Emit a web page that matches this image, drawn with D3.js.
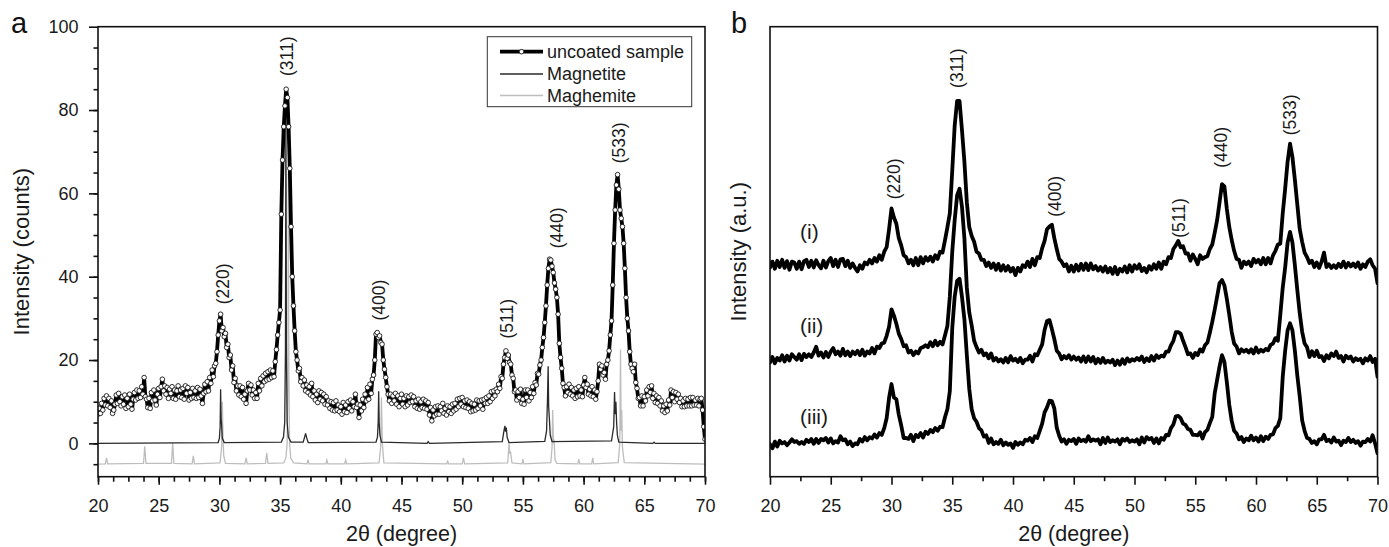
<!DOCTYPE html>
<html><head><meta charset="utf-8">
<script src="https://cdn.jsdelivr.net/npm/d3@7"></script>
<style>
html,body{margin:0;padding:0;background:#fff;}
svg{display:block;font-family:"Liberation Sans",Arial,Helvetica,sans-serif;}
</style></head><body>
<svg id="chart" width="1389" height="547"></svg>
<script>
// ---------------- DATA ----------------
// Panel a: uncoated sample, 2θ = 20.0 ... 70.0 in steps of 0.1°
const sampleStart = 20, sampleStep = 0.1;
const sampleIntensity = [
7.0,8.4,7.2,9.6,8.0,10.8,9.2,11.4,9.0,10.8,
8.6,10.2,7.2,8.0,9.4,11.6,9.6,12.0,10.0,9.0,
11.2,9.4,11.6,8.4,10.8,8.8,11.8,9.4,8.2,10.6,
12.2,10.4,12.8,10.8,12.6,11.0,13.6,11.8,15.8,11.2,
10.6,8.6,10.8,8.4,12.2,10.2,12.8,10.4,9.2,11.8,
13.2,11.0,13.6,15.4,12.6,13.8,11.8,13.4,10.8,13.0,
12.0,13.6,10.8,12.8,10.6,12.6,13.8,11.2,12.8,11.0,
13.2,10.6,13.8,12.0,13.4,10.4,12.2,10.8,13.2,11.0,
12.6,10.8,13.4,11.0,13.0,11.4,9.6,12.0,14.2,12.4,
14.8,12.6,15.8,14.4,17.6,16.0,18.6,19.2,22.0,26.0,
29.4,31.0,27.0,27.8,25.6,26.4,23.0,23.8,20.6,21.2,
17.6,18.6,14.6,15.6,12.6,13.8,11.6,13.8,11.2,13.4,
10.6,11.8,9.6,12.6,14.4,12.8,14.0,11.6,12.8,10.8,
12.2,10.8,14.4,12.6,15.6,13.8,16.2,14.8,16.8,15.2,
17.2,15.4,17.6,15.8,17.4,16.0,19.6,22.5,26.0,29.0,
32.0,55.0,68.0,76.0,81.0,85.0,83.0,76.0,66.0,52.0,
40.0,33.0,27.0,22.0,20.0,17.4,18.0,14.8,15.8,13.8,
15.2,12.6,14.0,12.2,13.6,11.6,14.4,11.2,12.6,10.4,
11.8,9.8,12.6,10.6,12.2,10.2,11.8,9.4,11.2,9.2,
10.2,8.4,10.0,8.0,9.8,7.8,10.2,8.0,9.2,7.6,
8.8,7.0,9.8,7.6,9.2,7.4,10.0,8.4,10.4,7.8,
10.0,8.8,11.8,8.6,9.4,6.2,9.2,7.8,10.6,8.6,
11.8,10.2,13.4,10.6,14.2,12.0,15.4,16.4,20.0,26.2,
26.6,25.4,25.8,24.2,23.8,20.0,17.8,15.8,13.6,11.8,
10.2,11.8,9.6,11.4,10.2,12.0,9.4,11.4,8.8,10.8,
11.8,9.4,10.8,8.8,11.4,9.2,11.2,9.8,11.6,10.0,
11.2,8.8,10.2,8.4,10.6,8.2,10.0,8.6,10.6,8.4,
10.2,8.2,9.8,6.8,8.6,5.4,8.0,6.6,8.8,7.0,
9.0,7.0,8.8,7.8,9.6,7.2,8.4,6.8,9.0,7.6,
8.8,7.2,9.4,7.8,9.6,8.2,10.6,8.8,10.8,9.4,
11.0,8.8,10.2,8.6,10.4,8.4,10.0,7.6,9.6,7.8,
9.4,8.0,10.4,8.4,10.2,9.0,10.4,8.2,10.6,9.6,
11.0,9.6,11.4,10.0,12.4,10.8,12.6,11.4,13.0,12.4,
14.2,13.2,16.0,15.6,19.0,20.6,22.2,20.4,21.2,19.4,
19.0,16.4,15.6,12.4,12.8,10.4,12.4,11.0,13.0,9.6,
10.6,9.4,12.8,11.0,12.8,10.2,12.2,11.0,13.6,12.0,
14.6,14.0,16.8,16.6,18.8,20.0,23.0,25.4,29.0,33.0,
38.0,42.0,44.2,44.0,42.5,41.0,38.5,37.0,35.0,31.0,
24.0,20.6,18.0,14.4,13.4,11.4,13.6,12.2,14.2,11.8,
13.4,11.4,12.8,10.8,13.2,11.2,13.6,11.4,12.8,11.2,
14.0,15.8,13.4,14.2,11.8,13.0,11.4,13.6,11.2,12.8,
10.6,12.4,15.0,19.0,17.8,18.6,16.4,17.0,15.4,19.0,
20.0,22.2,26.0,29.4,38.0,48.0,56.0,62.0,64.5,61.0,
56.0,54.0,52.0,48.0,42.0,35.0,30.0,27.0,22.0,19.0,
18.0,17.2,19.0,14.6,13.2,10.8,11.0,9.0,11.4,9.0,
11.2,10.2,12.8,11.4,13.6,12.2,13.8,10.8,12.0,9.8,
11.4,9.6,11.0,9.0,10.2,7.8,9.0,7.4,9.4,7.8,
10.4,9.2,12.8,11.0,12.4,10.0,12.2,10.6,11.8,9.8,
10.8,8.8,10.2,8.8,10.8,9.0,10.6,9.0,11.0,9.0,
11.0,9.2,10.4,9.2,10.8,9.0,10.6,10.8,8.0,4.0,
1.0
];

// Panel a: reference patterns [2θ, intensity]
const magnetiteProfile = [
[20,0],[29.9,0.2],[30.0,1.2],[30.06,4],[30.1,13],[30.14,6],[30.18,4.5],[30.24,1.2],[30.4,0.2],
[35.1,0.3],[35.28,1.5],[35.38,5],[35.44,22],[35.48,80],[35.52,22],[35.58,5],[35.68,1.5],[35.9,0.3],
[36.9,0.3],[37.02,1.5],[37.1,2.4],[37.2,1.2],[37.32,0.2],
[42.9,0.3],[43.02,1.5],[43.08,5],[43.12,12.5],[43.16,5],[43.22,2],[43.35,0.3],
[47.1,0],[47.2,0.4],[47.3,0],
[53.3,0.4],[53.45,3.2],[53.52,4.2],[53.57,2.8],[53.63,3.8],[53.7,1.5],[53.85,0.2],
[56.8,0.5],[56.95,3],[57.02,10],[57.08,18.5],[57.12,9],[57.18,6],[57.25,2],[57.4,0.4],
[62.3,0.6],[62.48,4],[62.55,12.3],[62.6,7],[62.66,10],[62.72,5],[62.78,2],[62.9,0.3],
[65.7,0],[65.8,0.3],[65.9,0],[70,0]
];
const maghemiteOffset = -5;
const maghemiteProfile = [
[20,0],[20.6,0.1],[20.7,1.5],[20.8,0.1],[23.75,0.2],[23.85,4.3],[23.95,0.2],
[26.05,0.2],[26.15,5.1],[26.25,0.2],[27.75,0.1],[27.85,2],[27.95,0.1],
[30.05,0.3],[30.18,4],[30.24,15],[30.3,6],[30.36,2],[30.5,0.2],
[32.1,0.1],[32.2,1.5],[32.3,0.1],[33.8,0.2],[33.9,2.7],[34.0,0.2],
[35.3,0.3],[35.48,1.5],[35.58,5],[35.64,22],[35.68,70],[35.72,22],[35.78,5],[35.88,1.5],[36.1,0.3],
[37.22,0.1],[37.3,1.1],[37.38,0.1],[38.77,0.1],[38.85,1.0],[38.93,0.1],[40.32,0.1],[40.4,1.0],[40.48,0.1],
[43.15,0.3],[43.28,4],[43.35,16],[43.42,5],[43.55,0.3],
[48.72,0.1],[48.8,0.7],[48.88,0.1],[50.0,0.1],[50.1,1.5],[50.2,0.1],
[53.75,0.3],[53.86,5],[53.92,2.5],[53.98,3],[54.1,0.3],[54.92,0.1],[55.0,1.2],[55.08,0.1],
[57.3,0.4],[57.4,4],[57.45,13],[57.52,5],[57.56,6],[57.65,1],[57.8,0.2],
[59.52,0.1],[59.6,1.2],[59.68,0.1],[60.67,0.1],[60.75,1.5],[60.83,0.1],
[62.85,0.4],[62.98,5],[63.04,27.5],[63.09,8],[63.14,13],[63.2,4],[63.35,0.4],[70,0]
];

const legendLabels = ["uncoated sample", "Magnetite", "Maghemite"];
const peakLabelsA = ["(220)", "(311)", "(400)", "(511)", "(440)", "(533)"];
const peakLabelAngleA = [30.81, 36.08, 43.6, 54.17, 58.29, 63.37];
const peakLabelIntA = [38.3, 92.9, 34.4, 29.9, 51.7, 72.1];

// Panel b: three traces (a.u., stacked), 2θ = 20.0 ... 70.0 in steps of 0.2°
const traceStart = 20, traceStep = 0.2;
const traceI = [
46.5,47.8,46.2,48.0,46.6, 48.2,46.4,47.9,46.0,47.8, 47.6,46.2,47.8,46.1,47.9, 48.2,46.6,48.0,46.5,48.1,
47.0,46.3,48.0,46.5,47.9, 48.6,46.8,48.2,46.6,48.3, 48.4,46.8,48.0,46.4,47.4, 46.4,45.6,47.0,46.2,47.6,
47.2,48.2,47.4,48.6,47.8, 49.2,48.2,50.0,51.0,55.0, 59.6,57.6,56.2,53.0,51.4, 49.2,48.8,47.4,48.2,47.0,
48.6,47.0,48.8,47.4,48.8, 48.0,48.9,47.8,49.2,48.4, 50.0,49.8,52.5,55.4,58.5, 68.0,78.0,83.5,83.5,77.0,
70.0,61.0,55.5,53.5,52.2, 50.0,49.6,48.2,48.2,46.8, 47.6,46.4,47.4,46.0,47.3, 45.8,47.0,45.8,46.8,45.6,
46.4,44.8,46.4,45.6,47.0, 46.6,47.8,46.6,48.4,47.0, 48.8,48.6,50.8,52.4,55.0, 55.6,56.0,53.0,50.6,48.4,
47.8,46.8,47.2,45.6,46.9, 45.6,47.1,45.8,47.3,46.0, 47.4,45.9,47.4,46.1,46.8, 45.8,46.6,45.6,46.7,45.4,
46.4,45.1,46.6,45.0,46.2, 45.6,46.7,45.4,47.0,45.6, 47.0,46.2,47.2,45.7,46.4, 45.4,46.8,46.0,47.2,46.2,
47.6,46.2,47.8,47.2,48.8, 48.6,50.6,51.4,52.4,51.0, 51.2,49.6,49.6,48.0,49.4, 48.4,47.2,49.2,48.4,48.8,
49.0,50.6,51.6,54.2,57.0, 61.0,65.0,64.5,59.5,55.5, 52.6,50.2,48.4,48.2,46.4, 47.8,47.2,47.8,46.8,48.4,
47.6,48.2,47.2,48.6,47.2, 48.6,47.4,49.2,50.2,51.6, 51.8,58.5,64.0,70.0,74.0, 71.0,66.0,60.5,55.0,52.2,
49.8,48.8,47.5,48.0,46.6, 47.6,46.4,47.8,49.8,46.6, 47.2,46.4,47.0,46.4,47.3, 46.6,47.8,46.5,47.5,46.7,
47.4,46.6,47.6,46.2,47.2, 46.6,47.8,48.3,47.0,46.2,
43.0
];
const traceII = [
25.4,26.6,25.2,26.4,25.8, 27.0,25.6,26.9,25.8,27.2, 26.6,26.0,27.2,25.9,27.3, 26.6,27.2,26.6,27.6,28.9,
26.9,27.6,26.5,27.7,26.6, 27.8,28.6,27.2,27.8,26.9, 28.4,27.0,27.8,26.8,27.8, 27.2,28.0,27.0,28.2,26.9,
27.8,27.4,28.6,27.4,28.9, 28.6,29.6,29.8,31.3,33.3, 37.2,35.8,34.0,31.8,30.6, 29.0,29.2,27.6,28.0,27.0,
27.8,27.4,28.6,28.8,29.2, 28.8,29.9,29.0,30.2,29.2, 30.0,29.4,31.4,33.5,40.0, 50.0,57.0,62.5,64.0,60.0,
53.0,42.0,36.5,33.6,30.2, 28.8,27.6,28.2,27.0,27.4, 26.3,27.4,25.8,26.4,25.6, 26.1,25.4,26.4,25.4,26.8,
25.8,26.2,25.5,26.4,25.2, 26.0,26.0,26.9,25.6,27.2, 27.0,28.2,29.4,32.6,34.6, 34.8,32.8,30.6,28.0,27.4,
26.1,26.8,26.3,27.0,26.0, 26.7,26.0,26.5,25.6,26.7, 25.5,26.7,25.6,26.6,25.2, 26.2,25.3,26.4,25.3,25.8,
25.4,26.0,24.8,25.8,24.9, 26.1,25.1,26.3,25.6,26.1, 25.8,26.4,25.9,26.7,25.5, 26.3,25.7,26.8,25.8,27.0,
26.4,26.9,26.7,27.8,27.8, 29.2,30.2,32.1,32.1,31.8, 30.2,28.8,27.2,27.4,26.4, 27.5,27.0,28.3,27.8,29.2,
29.8,32.0,34.4,37.1,40.0, 43.0,43.7,42.5,39.5,36.0, 32.2,29.6,28.9,27.4,28.3, 27.8,28.2,27.6,28.3,27.4,
28.7,27.6,28.2,27.8,28.4, 28.1,29.3,29.6,30.8,30.2, 36.0,42.0,46.5,52.0,54.4, 52.0,47.0,41.5,36.3,32.2,
29.6,28.8,26.6,27.9,26.8, 28.0,26.6,26.8,25.7,27.0, 26.3,27.4,26.8,27.8,26.4, 26.8,25.6,26.9,26.3,26.7,
25.6,26.3,25.9,26.2,25.2, 26.3,25.8,26.8,25.5,26.2,
22.2
];
const traceIII = [
7.2,6.3,7.8,6.7,8.0, 7.4,7.7,7.0,7.6,8.3, 7.7,7.9,7.3,7.7,7.3, 8.2,7.7,8.4,7.3,8.4,
7.5,8.4,8.1,8.6,7.6, 8.5,7.4,7.9,7.6,9.0, 8.1,8.3,7.2,7.8,6.8, 7.4,7.2,8.4,7.8,8.8,
8.1,8.8,8.5,9.4,8.7, 9.7,9.3,10.8,13.0,17.5, 20.6,17.6,17.2,13.8,11.4, 8.6,8.6,8.4,9.3,7.9,
9.3,8.8,9.7,8.7,10.0, 9.5,10.4,9.9,10.8,10.2, 11.1,11.0,13.2,15.0,19.0, 33.0,40.0,43.5,44.0,40.0,
35.0,27.0,19.5,15.0,13.0, 12.2,10.8,10.3,8.9,9.2, 7.5,8.5,7.2,7.7,7.3, 8.2,7.0,7.6,7.1,7.4,
6.4,7.7,7.1,7.6,7.2, 8.2,8.0,8.6,7.7,9.0, 8.6,10.2,11.8,14.3,15.4, 16.9,16.8,15.2,10.9,9.1,
7.8,8.3,7.3,8.2,7.9, 8.4,7.3,8.5,7.9,8.2, 7.8,9.0,7.9,8.3,8.0, 8.3,7.2,8.6,7.5,8.7,
7.7,8.1,7.8,8.3,7.2, 8.4,8.0,8.5,7.7,8.1, 7.8,8.3,7.2,8.7,7.6, 8.8,8.3,8.6,7.5,8.5,
7.4,8.6,8.2,9.3,9.2, 10.8,11.6,13.4,13.5,13.0, 11.8,11.5,10.6,10.4,9.3, 9.3,9.2,9.9,8.5,9.9,
10.4,11.9,13.3,18.5,21.5, 24.5,27.0,25.5,21.0,16.0, 12.4,10.2,9.6,8.3,8.8, 7.7,8.5,8.1,9.1,8.1,
8.7,7.8,9.0,7.9,8.9, 8.4,9.3,9.4,10.8,11.3, 13.0,22.2,28.0,32.5,34.1, 32.5,28.0,22.5,17.8,12.5,
10.2,8.6,8.4,7.5,7.9, 7.2,8.3,8.3,9.3,7.9, 8.2,7.6,8.7,7.8,8.0, 7.0,8.0,7.7,8.6,7.7,
8.2,7.5,7.9,6.9,7.8, 7.7,8.4,7.8,9.2,7.4,
5.2
];
const traceNames = ["(i)", "(ii)", "(iii)"];
const traceLabelAngle = 22.47;
const traceLabelInt = [52.9, 32.0, 11.8];
const peakLabelsB = ["(220)", "(311)", "(400)", "(511)", "(440)", "(533)"];
const peakLabelAngleB = [30.66, 35.87, 43.99, 54.12, 57.65, 63.31];
const peakLabelIntB = [66.2, 90.8, 62.3, 57.5, 73.2, 80.4];

const xTicksMajor = [20,25,30,35,40,45,50,55,60,65,70];
const yTicksA = [0,20,40,60,80,100];

// ---------------- DRAW ----------------
const svg = d3.select("#chart");
const INK = "#111";
const FONT_TICK = 18, FONT_TITLE = 21.5, FONT_PEAK = 17.5;

function frame(g, x0, y0, x1, y1) {
  g.append("rect").attr("x", x0).attr("y", y0).attr("width", x1 - x0).attr("height", y1 - y0)
    .attr("fill", "none").attr("stroke", INK).attr("stroke-width", 1.6);
}
function styleAxis(sel) {
  sel.select(".domain").remove();
  sel.selectAll("line").attr("stroke", INK).attr("stroke-width", 1.6);
  sel.selectAll("text").attr("fill", "#1a1a1a").style("font-size", FONT_TICK + "px")
     .style("font-family", '"Liberation Sans",Arial,sans-serif');
}

// ---- Panel a ----
const A = {l: 98, r: 705, t: 26.7, b: 476.7};
const xA = d3.scaleLinear().domain([20, 70]).range([A.l, A.r]);
const yA = d3.scaleLinear().domain([-8, 100]).range([A.b, A.t]);
const gA = svg.append("g");

gA.append("g").attr("transform", `translate(0,${A.b})`)
  .call(d3.axisBottom(xA).tickValues(d3.range(20, 70.01, 1.25)).tickSize(5).tickFormat(""))
  .call(styleAxis);
gA.append("g").attr("transform", `translate(${A.l},0)`)
  .call(d3.axisLeft(yA).tickValues(d3.range(-5, 100, 5)).tickSize(4.5).tickFormat(""))
  .call(styleAxis);
gA.append("g").attr("transform", `translate(0,${A.b})`)
  .call(d3.axisBottom(xA).tickValues(xTicksMajor).tickSize(8).tickPadding(14.5).tickFormat(d3.format("d")))
  .call(styleAxis);
gA.append("g").attr("transform", `translate(${A.l},0)`)
  .call(d3.axisLeft(yA).tickValues(yTicksA).tickSize(9).tickPadding(10.5).tickFormat(d3.format("d")))
  .call(styleAxis);

svg.append("clipPath").attr("id", "clipA").append("rect")
  .attr("x", A.l).attr("y", A.t).attr("width", A.r - A.l).attr("height", A.b - A.t);
const plotA = gA.append("g").attr("clip-path", "url(#clipA)");

const lineAref = d3.line().x(d => xA(d[0])).y(d => yA(d[1]));
plotA.append("path").datum(maghemiteProfile.map(d => [d[0], d[1] + maghemiteOffset]))
  .attr("d", lineAref).attr("fill", "none").attr("stroke", "#bdbdbd").attr("stroke-width", 1.3);
plotA.append("path").datum(magnetiteProfile)
  .attr("d", lineAref).attr("fill", "none").attr("stroke", "#2a2a2a").attr("stroke-width", 1.3);

const samplePts = sampleIntensity.map((v, i) => [sampleStart + i * sampleStep, v]);
plotA.append("path").datum(samplePts).attr("d", lineAref)
  .attr("fill", "none").attr("stroke", "#000").attr("stroke-width", 3.8).attr("stroke-linejoin", "round");
plotA.append("g").selectAll("circle").data(samplePts).join("circle")
  .attr("cx", d => xA(d[0])).attr("cy", d => yA(d[1])).attr("r", 2.3)
  .attr("fill", "#fff").attr("stroke", "#1a1a1a").attr("stroke-width", 0.9);

frame(gA, A.l, A.t, A.r, A.b);

gA.append("g").selectAll("text").data(peakLabelsA).join("text")
  .attr("transform", (d, i) => `translate(${xA(peakLabelAngleA[i])},${yA(peakLabelIntA[i])}) rotate(-90)`)
  .attr("text-anchor", "middle").style("font-size", FONT_PEAK + "px").attr("fill", "#1a1a1a").text(d => d);

const lg = gA.append("g");
lg.append("rect").attr("x", 487.3).attr("y", 36.7).attr("width", 204.4).attr("height", 70)
  .attr("fill", "#fff").attr("stroke", "#333").attr("stroke-width", 1);
const legY = [51.7, 74, 95.5];
const legStroke = ["#000", "#2a2a2a", "#bdbdbd"];
const legWidth = [3.8, 1.3, 1.3];
legendLabels.forEach((lab, i) => {
  lg.append("line").attr("x1", 500).attr("x2", 543).attr("y1", legY[i]).attr("y2", legY[i])
    .attr("stroke", legStroke[i]).attr("stroke-width", legWidth[i]);
  lg.append("text").attr("x", 547).attr("y", legY[i]).attr("dy", "0.35em")
    .style("font-size", "18px").attr("fill", "#1a1a1a").text(lab);
});
lg.append("circle").attr("cx", 521.5).attr("cy", legY[0]).attr("r", 2.3)
  .attr("fill", "#fff").attr("stroke", "#1a1a1a").attr("stroke-width", 0.9);

gA.append("text").attr("x", (A.l + A.r) / 2).attr("y", 541).attr("text-anchor", "middle")
  .style("font-size", FONT_TITLE + "px").attr("fill", "#1a1a1a").text("2θ (degree)");
gA.append("text").attr("transform", `translate(28.5,${(A.t + A.b) / 2}) rotate(-90)`).attr("text-anchor", "middle")
  .style("font-size", "22px").attr("fill", "#1a1a1a").text("Intensity (counts)");
gA.append("text").attr("x", 11).attr("y", 33).style("font-size", "29px").attr("fill", "#111").text("a");

// ---- Panel b ----
const B = {l: 770, r: 1377.5, t: 26.7, b: 476.7};
const xB = d3.scaleLinear().domain([20, 70]).range([B.l, B.r]);
const yB = d3.scaleLinear().domain([0, 100]).range([B.b, B.t]);
const gB = svg.append("g");

gB.append("g").attr("transform", `translate(0,${B.b})`)
  .call(d3.axisBottom(xB).tickValues(d3.range(22.5, 70, 5)).tickSize(4.5).tickFormat(""))
  .call(styleAxis);
gB.append("g").attr("transform", `translate(0,${B.b})`)
  .call(d3.axisBottom(xB).tickValues(xTicksMajor).tickSize(8).tickPadding(14.5).tickFormat(d3.format("d")))
  .call(styleAxis);

svg.append("clipPath").attr("id", "clipB").append("rect")
  .attr("x", B.l).attr("y", B.t).attr("width", B.r - B.l).attr("height", B.b - B.t);
const plotB = gB.append("g").attr("clip-path", "url(#clipB)");
const lineB = d3.line().x(d => xB(d[0])).y(d => yB(d[1]));
[traceI, traceII, traceIII].forEach(tr => {
  plotB.append("path").datum(tr.map((v, i) => [traceStart + i * traceStep, v])).attr("d", lineB)
    .attr("fill", "none").attr("stroke", "#000").attr("stroke-width", 3.8)
    .attr("stroke-linejoin", "round").attr("stroke-linecap", "round");
});
frame(gB, B.l, B.t, B.r, B.b);

gB.append("g").selectAll("text").data(peakLabelsB).join("text")
  .attr("transform", (d, i) => `translate(${xB(peakLabelAngleB[i])},${yB(peakLabelIntB[i])}) rotate(-90)`)
  .attr("text-anchor", "middle").style("font-size", FONT_PEAK + "px").attr("fill", "#1a1a1a").text(d => d);

gB.append("g").selectAll("text").data(traceNames).join("text")
  .attr("x", xB(traceLabelAngle)).attr("y", (d, i) => yB(traceLabelInt[i]))
  .style("font-size", "21px").attr("fill", "#1a1a1a").text(d => d);

gB.append("text").attr("x", (B.l + B.r) / 2).attr("y", 541).attr("text-anchor", "middle")
  .style("font-size", FONT_TITLE + "px").attr("fill", "#1a1a1a").text("2θ (degree)");
gB.append("text").attr("transform", `translate(745.5,${(B.t + B.b) / 2}) rotate(-90)`).attr("text-anchor", "middle")
  .style("font-size", "22px").attr("fill", "#1a1a1a").text("Intensity (a.u.)");
gB.append("text").attr("x", 731).attr("y", 33).style("font-size", "29px").attr("fill", "#111").text("b");
</script>
</body></html>
